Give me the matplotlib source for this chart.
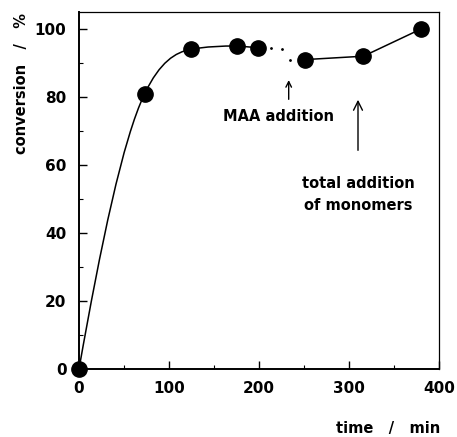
import numpy as np
import matplotlib
matplotlib.use("Agg")
import matplotlib.pyplot as plt
from matplotlib.path import Path
from matplotlib.patches import PathPatch

# measured points
time_min = [0, 73, 124, 176, 199, 251, 316, 380]
conversion = [0, 81, 94, 95, 94.5, 91, 92, 100]
# slopes used for the hand-drawn smooth part (first four points)
curve_slopes = [1.5, 0.55, 0.05, 0.0]

plt.rcParams['font.family'] = 'DejaVu Sans'
plt.rcParams['font.weight'] = 'bold'

fig = plt.figure(figsize=(4.57, 4.37), dpi=100)
ax = fig.add_axes([79 / 457, 1 - 369 / 437, 360 / 457, 357 / 437])

# smooth curve through the first points, built as cubic bezier segments
verts = [(time_min[0], conversion[0])]
codes = [Path.MOVETO]
for i in range(3):
    x0, y0 = time_min[i], conversion[i]
    x1, y1 = time_min[i + 1], conversion[i + 1]
    h = (x1 - x0) / 3
    verts += [(x0 + h, y0 + curve_slopes[i] * h),
              (x1 - h, y1 - curve_slopes[i + 1] * h),
              (x1, y1)]
    codes += [Path.CURVE4] * 3
ax.add_patch(PathPatch(Path(verts, codes), fill=False, lw=1.1, color='black'))

# straight pieces
ax.plot(time_min[3:5], conversion[3:5], color='black', lw=1.1)
ax.plot(time_min[5:], conversion[5:], color='black', lw=1.1)
# dotted gap after the MAA addition
ax.plot([time_min[4] + 14, time_min[4] + 26, time_min[4] + 35],
        [94.3, 94.0, 91.0], ls='none', marker='.', ms=2, color='black')

ax.plot(time_min, conversion, ls='none', marker='o', ms=11,
        color='black', clip_on=False, zorder=5)

# arrows and annotations
ax.annotate('', xy=(233, 85.8), xytext=(233, 78.5),
            arrowprops=dict(arrowstyle='->', lw=1.0, color='black'))
ax.text(222, 74.3, 'MAA addition', ha='center', va='center', fontsize=10.5)
ax.annotate('', xy=(310, 80), xytext=(310, 63.5),
            arrowprops=dict(arrowstyle='->', lw=1.0, color='black',
                            mutation_scale=16))
ax.text(310, 54.5, 'total addition', ha='center', va='center', fontsize=10.5)
ax.text(310, 48, 'of monomers', ha='center', va='center', fontsize=10.5)

ax.set_xlim(0, 400)
ax.set_ylim(0, 105)
ax.set_xticks([0, 100, 200, 300, 400])
ax.set_xticks([50, 150, 250, 350], minor=True)
ax.set_yticks([0, 20, 40, 60, 80, 100])
ax.set_yticks([10, 30, 50, 70, 90], minor=True)
ax.tick_params(direction='in', length=6, width=1, labelsize=11)
ax.tick_params(which='minor', direction='in', length=3, width=0.8)
ax.tick_params(axis='x', pad=8.5)
ax.tick_params(axis='y', pad=9)
for s in ['left', 'bottom']:
    ax.spines[s].set_linewidth(1.4)
for s in ['top', 'right']:
    ax.spines[s].set_linewidth(0.9)

fig.text(440 / 457, 1 - 428 / 437, 'time   /   min', ha='right', va='center',
         fontsize=10.5)
fig.text(22 / 457, 1 - 13 / 437, 'conversion   /   %', ha='center', va='top',
         rotation=90, fontsize=10.5)

fig.savefig('out.png', dpi=100)
